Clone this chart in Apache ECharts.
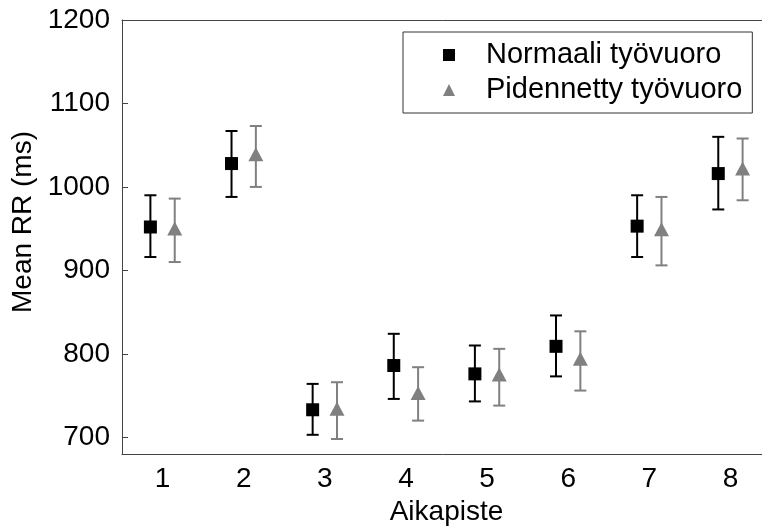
<!DOCTYPE html>
<html lang="fi">
<head>
  <meta charset="UTF-8">
  <title>Mean RR</title>
  <style>
    html, body { margin: 0; padding: 0; background: #fff; }
    #chart { width: 762px; height: 528px; }
  </style>
  <script src="https://cdn.jsdelivr.net/npm/echarts@6/dist/echarts.min.js"></script>
</head>
<body>
<div id="chart"></div>
<script>
  // aikapisteet ja keskiarvot virhepalkkeineen
  var categories = ['1', '2', '3', '4', '5', '6', '7', '8'];
  var yTicks = [700, 800, 900, 1000, 1100, 1200];

  var normalMean = [952, 1028, 733, 786, 776, 809, 953, 1016];
  var normalLow  = [916, 988, 703, 746, 743, 773, 916, 973];
  var normalHigh = [990, 1067, 764, 824, 810, 846, 990, 1060];

  var extMean = [949, 1038, 733, 752, 774, 793, 948, 1021];
  var extLow  = [910, 1000, 698, 720, 738, 756, 906, 984];
  var extHigh = [986, 1073, 766, 784, 806, 827, 988, 1058];

  var FONT = 'Liberation Sans, Arial, sans-serif';
  var axisColor = '#444';

  function toData(mean, low, high) {
    return mean.map(function (m, i) { return [i, m, low[i], high[i]]; });
  }

  function makeRender(offset, shape, color) {
    return function (params, api) {
      var idx = api.value(0);
      var c = api.coord([idx, api.value(1)]);
      var band = api.size([1, 0])[0];
      var px = c[0] + offset * band;
      var yl = api.coord([idx, api.value(2)])[1];
      var yh = api.coord([idx, api.value(3)])[1];
      var ls = { stroke: color, lineWidth: 2 };
      var marker;
      if (shape === 'rect') {
        marker = { type: 'rect', shape: { x: px - 6.5, y: c[1] - 6.5, width: 13, height: 13 }, style: { fill: color } };
      } else {
        marker = { type: 'polygon', shape: { points: [[px, c[1] - 8], [px + 7.5, c[1] + 6], [px - 7.5, c[1] + 6]] }, style: { fill: color } };
      }
      return {
        type: 'group',
        children: [
          { type: 'line', shape: { x1: px, y1: yl, x2: px, y2: yh }, style: ls },
          { type: 'line', shape: { x1: px - 6, y1: yl, x2: px + 6, y2: yl }, style: ls },
          { type: 'line', shape: { x1: px - 6, y1: yh, x2: px + 6, y2: yh }, style: ls },
          marker
        ]
      };
    };
  }

  var myChart = echarts.init(document.getElementById('chart'));
  var option = {
    animation: false,
    backgroundColor: '#fff',
    color: ['#000000', '#808080'],
    textStyle: { fontFamily: FONT },
    grid: { left: 122, right: -9, top: 20, bottom: 74, containLabel: false, outerBoundsMode: 'none' },
    legend: {
      orient: 'vertical',
      left: 403,
      top: 32,
      padding: [8, 10, 8, 40],
      itemGap: 5,
      itemWidth: 12,
      itemHeight: 12,
      borderColor: '#333',
      borderWidth: 1,
      backgroundColor: '#fff',
      textStyle: { fontFamily: FONT, fontSize: 29, color: '#000', lineHeight: 30, padding: [0, 0, 0, 26] },
      data: [
        { name: 'Normaali työvuoro', icon: 'rect' },
        { name: 'Pidennetty työvuoro', icon: 'triangle' }
      ]
    },
    xAxis: [{
      type: 'category',
      data: categories,
      boundaryGap: true,
      name: 'Aikapiste',
      nameLocation: 'middle',
      nameGap: 40,
      nameTextStyle: { fontFamily: FONT, fontSize: 28, color: '#000' },
      axisLine: { lineStyle: { color: axisColor, width: 1 } },
      axisTick: { inside: true, alignWithLabel: true, length: 6, lineStyle: { color: axisColor } },
      axisLabel: { fontFamily: FONT, fontSize: 28, color: '#000', margin: 11 },
      splitLine: { show: false }
    }, {
      type: 'category',
      data: categories,
      position: 'top',
      boundaryGap: true,
      axisLine: { lineStyle: { color: axisColor, width: 1 } },
      axisTick: { inside: true, alignWithLabel: true, length: 6, lineStyle: { color: axisColor } },
      axisLabel: { show: false },
      splitLine: { show: false }
    }],
    yAxis: {
      type: 'value',
      min: 680,
      max: 1200,
      name: 'Mean RR (ms)',
      nameLocation: 'middle',
      nameRotate: 90,
      nameGap: 82,
      nameTextStyle: { fontFamily: FONT, fontSize: 28, color: '#000', padding: [0, 0, 0, 30] },
      axisLine: { show: true, lineStyle: { color: axisColor, width: 1 } },
      axisTick: { show: true, inside: true, length: 6, customValues: yTicks, lineStyle: { color: axisColor } },
      axisLabel: {
        fontFamily: FONT, fontSize: 28, color: '#000', margin: 12, customValues: yTicks,
        formatter: function (v) { return String(v); }
      },
      splitLine: { show: false }
    },
    series: [{
      name: 'Normaali työvuoro',
      type: 'custom',
      xAxisIndex: 0,
      itemStyle: { color: '#000000' },
      renderItem: makeRender(-0.15, 'rect', '#000000'),
      encode: { x: 0, y: 1 },
      data: toData(normalMean, normalLow, normalHigh)
    }, {
      name: 'Pidennetty työvuoro',
      type: 'custom',
      xAxisIndex: 0,
      itemStyle: { color: '#808080' },
      renderItem: makeRender(0.15, 'triangle', '#808080'),
      encode: { x: 0, y: 1 },
      data: toData(extMean, extLow, extHigh)
    }]
  };
  myChart.setOption(option);
</script>
</body>
</html>
